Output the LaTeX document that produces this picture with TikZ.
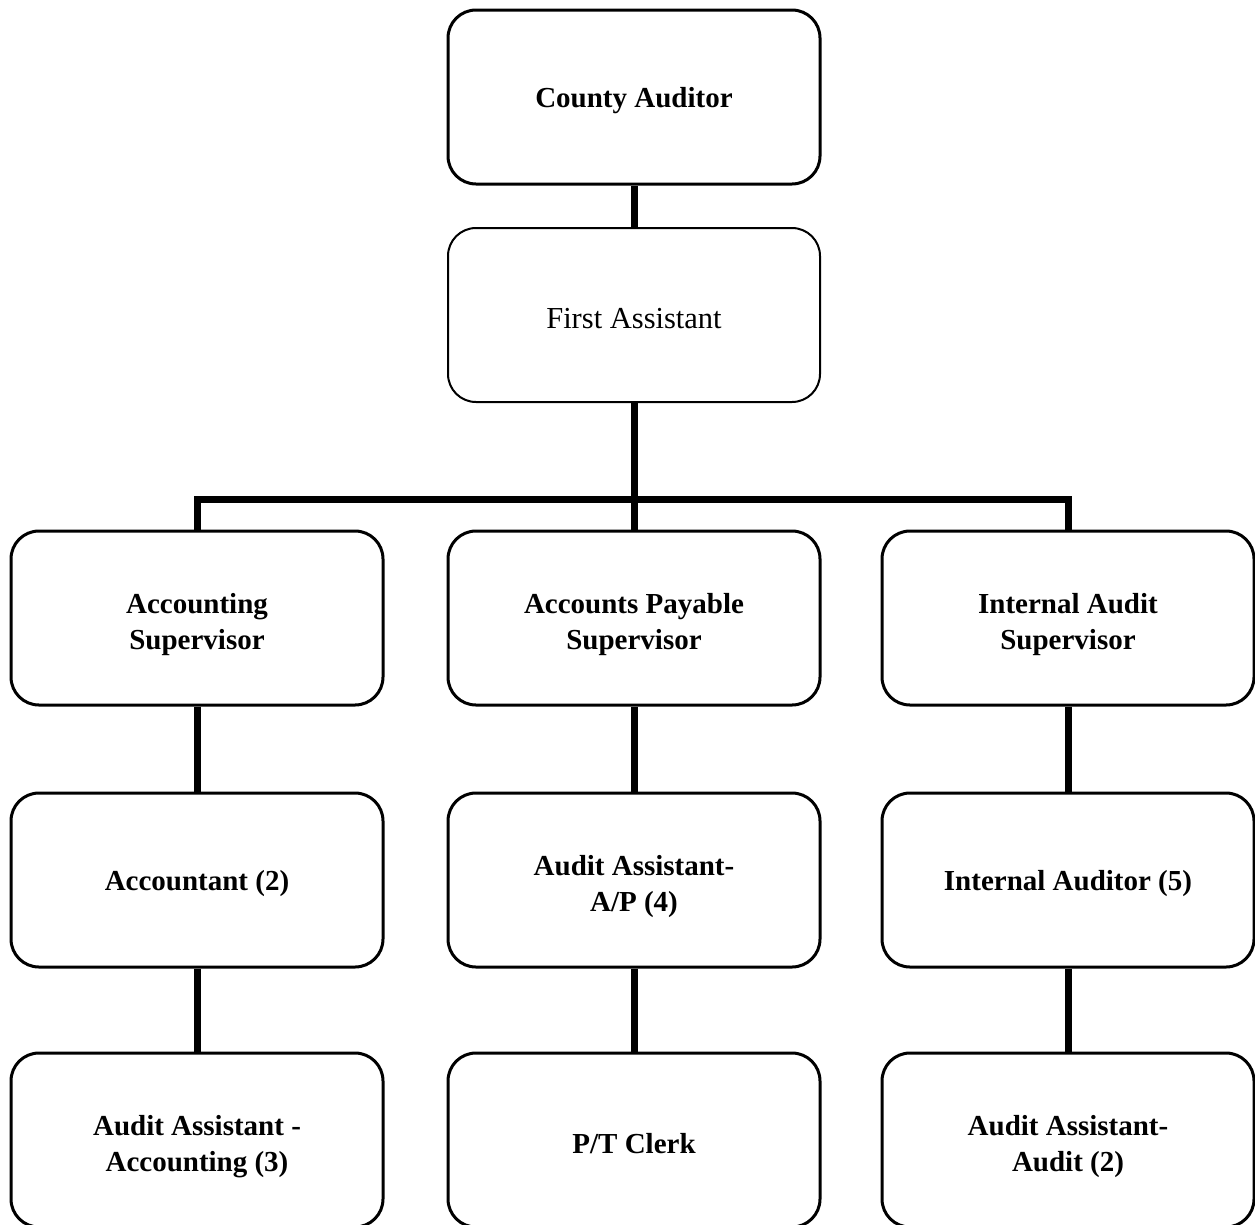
\documentclass[tikz,border=0pt]{standalone}
\usepackage{fontspec}
\setmainfont{Liberation Serif}
\newcommand{\twolines}[2]{\raisebox{-6pt}[\height][\depth]{\begin{tabular}{@{}c@{}}#1\\#2\end{tabular}}}
\begin{document}
\begin{tikzpicture}[x=1pt,y=-1pt,
  box/.style={draw=black, line width=3pt, rounded corners=28pt, minimum width=372pt, minimum height=174pt, inner sep=0pt, align=center, font=\fontsize{29}{36}\selectfont\bfseries, execute at begin node={\rule{0pt}{27pt}}},
  plainbox/.style={box, line width=2pt, font=\fontsize{30.5}{36}\selectfont},
  link/.style={draw=black, line width=7pt, line join=miter}]
\useasboundingbox (0,0) rectangle (1255,1224);
\clip (0,0) rectangle (1255,1224);
% nodes
\node[box] (ca) at (634,97) {County Auditor};
\node[plainbox] (fa) at (634,315) {First Assistant};
\node[box] (as) at (197,618) {\twolines{Accounting}{Supervisor}};
\node[box] (ps) at (634,618) {\twolines{Accounts Payable}{Supervisor}};
\node[box] (is) at (1068,618) {\twolines{Internal Audit}{Supervisor}};
\node[box] (ac) at (197,880) {Accountant (2)};
\node[box] (aap) at (634,880) {\twolines{Audit Assistant-}{A/P (4)}};
\node[box] (ia) at (1068,880) {Internal Auditor (5)};
\node[box] (aaa) at (197,1140) {\twolines{Audit Assistant -}{Accounting (3)}};
\node[box] (pt) at (634,1140) {P/T Clerk};
\node[box] (aau) at (1068,1140) {\twolines{Audit Assistant-}{Audit (2)}};
\coordinate (bus) at (634,499);
% connectors
\draw[link] (ca.south) -- (fa.north);
\draw[link] (fa.south) -- (bus);
\draw[link] (as.north) |- (bus) -| (is.north);
\draw[link] (bus) -- (ps.north);
\draw[link] (as.south) -- (ac.north);
\draw[link] (ac.south) -- (aaa.north);
\draw[link] (ps.south) -- (aap.north);
\draw[link] (aap.south) -- (pt.north);
\draw[link] (is.south) -- (ia.north);
\draw[link] (ia.south) -- (aau.north);
\end{tikzpicture}
\end{document}
